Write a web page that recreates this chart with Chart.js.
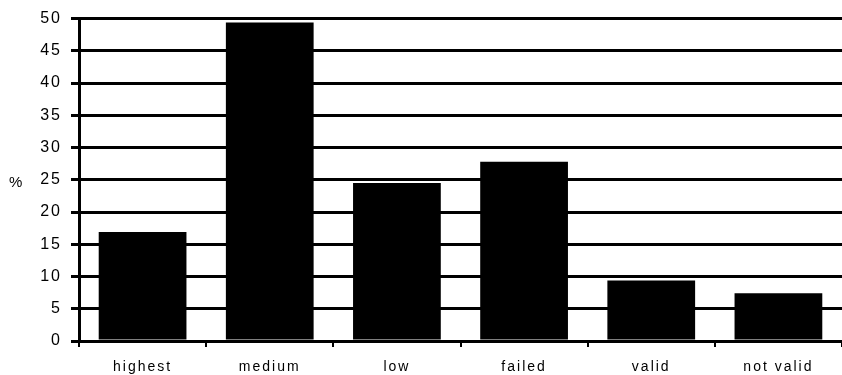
<!DOCTYPE html>
<html>
<head>
<meta charset="utf-8">
<script src="https://cdn.jsdelivr.net/npm/chart.js@4/dist/chart.umd.min.js"></script>
<style>
html,body{margin:0;padding:0;background:#fff;}
#wrap{width:842px;height:375px;position:relative;}
</style>
</head>
<body>
<div id="wrap"><canvas id="c"></canvas></div>
<script>
const categories = ["highest", "medium", "low", "failed", "valid", "not valid"];
const percentValues = [16.9, 49.4, 24.5, 27.8, 9.4, 7.4];
const yAxisTitle = "%";

const percentTitle = {
  id: 'percentTitle',
  beforeDraw(chart) { chart.ctx.letterSpacing = '2px'; },
  afterDraw(chart) {
    const ctx = chart.ctx, a = chart.chartArea;
    ctx.save();
    ctx.letterSpacing = '0px';
    ctx.font = '15px "Liberation Sans", Arial, sans-serif';
    ctx.fillStyle = '#000';
    ctx.textAlign = 'left';
    ctx.textBaseline = 'middle';
    ctx.fillText(yAxisTitle, 9, (a.top + a.bottom) / 2 + 3);
    ctx.restore();
  }
};

new Chart(document.getElementById('c'), {
  type: 'bar',
  data: {
    labels: categories,
    datasets: [{
      data: percentValues,
      backgroundColor: '#000',
      borderWidth: 0,
      barPercentage: 0.69,
      categoryPercentage: 1.0
    }]
  },
  options: {
    responsive: true,
    maintainAspectRatio: false,
    animation: false,
    devicePixelRatio: 1,
    layout: { padding: { top: 17, right: 0, left: 0, bottom: 0 } },
    plugins: { legend: { display: false }, tooltip: { enabled: false }, title: { display: false } },
    scales: {
      x: {
        grid: { offset: true, drawOnChartArea: false, drawTicks: true, tickLength: 6, lineWidth: 2, color: '#000' },
        border: { display: true, color: '#000', width: 2 },
        ticks: { color: '#000', padding: 12, font: { family: '"Liberation Sans", Arial, sans-serif', size: 14 }, maxRotation: 0 },
        afterFit(scale) { scale.height = 34; }
      },
      y: {
        min: 0, max: 50,
        grid: { color: '#000', lineWidth: 3, tickLength: 8, drawTicks: true },
        border: { display: true, color: '#000', width: 3 },
        ticks: { stepSize: 5, color: '#000', padding: 9, font: { family: '"Liberation Sans", Arial, sans-serif', size: 16 } },
        afterFit(scale) { scale.width = 79; }
      }
    }
  },
  plugins: [percentTitle]
});
</script>
</body>
</html>
